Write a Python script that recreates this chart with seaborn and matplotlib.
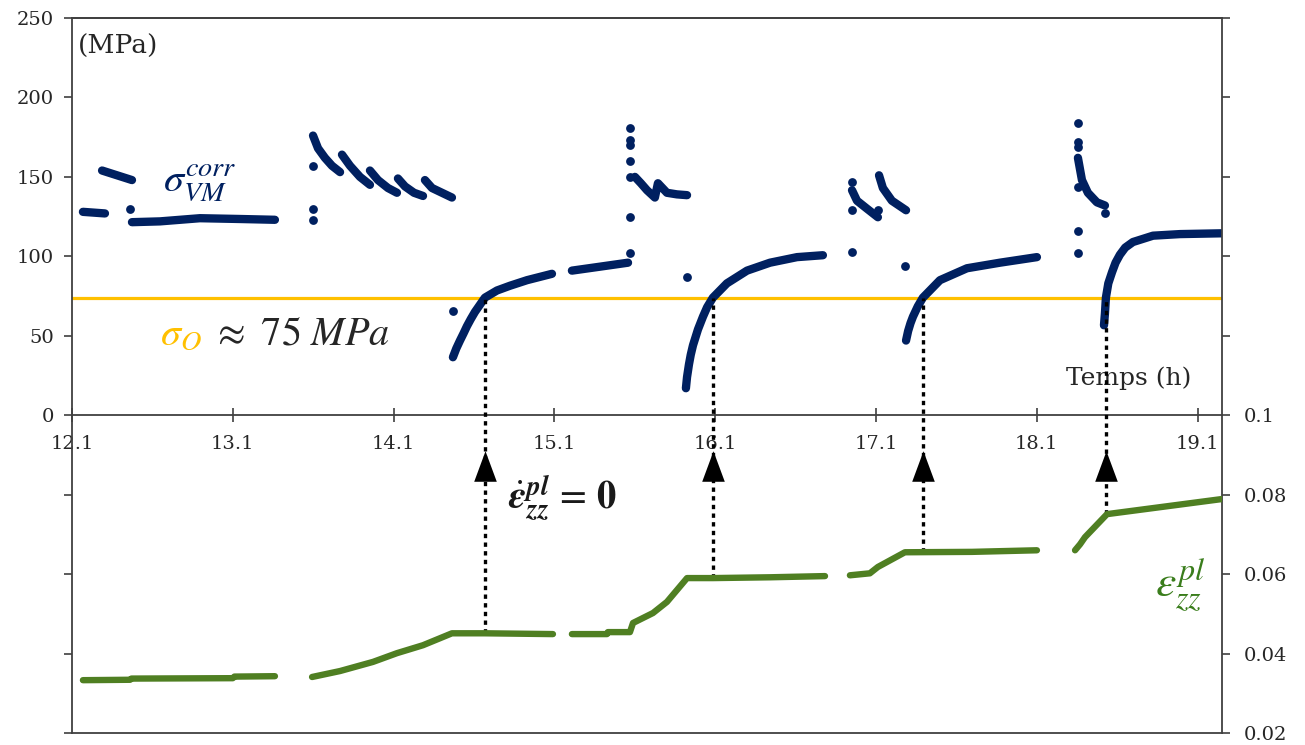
import numpy as np
import pandas as pd
import seaborn as sns
import matplotlib.pyplot as plt
from matplotlib.path import Path

# --- stress (MPa, left axis): continuous pieces, one id per piece ---
stress_seg = ([1] * 3 + [2] * 3 + [3] * 5 +
              [4] * 5 + [5] * 4 + [6] * 4 + [7] * 4 + [8] * 4 +
              [9] * 12 + [10] * 3 + [11] * 8 + [12] * 14 +
              [13] * 4 + [14] * 4 + [15] * 10 + [16] * 5 + [17] * 12)
stress_t = [12.168, 12.237, 12.305,
            12.287, 12.380, 12.473,
            12.473, 12.647, 12.896, 13.145, 13.362,
            13.599, 13.630, 13.673, 13.717, 13.767,
            13.779, 13.829, 13.891, 13.953,
            13.953, 14.003, 14.065, 14.121,
            14.127, 14.171, 14.227, 14.283,
            14.295, 14.339, 14.401, 14.463,
            14.469, 14.490, 14.513, 14.535, 14.556, 14.580, 14.606, 14.668, 14.743, 14.824, 14.930, 15.085,
            15.209, 15.384, 15.558,
            15.601, 15.638, 15.676, 15.725, 15.744, 15.800, 15.862, 15.925,
            15.918, 15.925, 15.937, 15.948, 15.962, 15.993, 16.024, 16.050, 16.086, 16.173, 16.298, 16.441, 16.609, 16.770,
            16.951, 16.982, 17.044, 17.112,
            17.119, 17.143, 17.199, 17.287,
            17.287, 17.300, 17.315, 17.330, 17.360, 17.392, 17.498, 17.666, 17.871, 18.101,
            18.356, 18.381, 18.418, 18.474, 18.524,
            18.518, 18.524, 18.530, 18.545, 18.568, 18.590, 18.617, 18.650, 18.698, 18.823, 18.991, 19.252]
stress_mpa = [128, 127.5, 127,
              154, 151, 148,
              121.5, 122, 124, 123.5, 123,
              176, 168, 162, 157, 153,
              164, 157, 150, 145,
              154, 148, 143, 140,
              149, 144, 140, 138,
              148, 143, 140, 137,
              36.5, 42, 47, 51.5, 56, 60.5, 65, 74, 78.5, 81.5, 85, 89,
              91, 93.5, 96,
              150, 146, 141.6, 137, 146, 140, 139, 138.5,
              17, 24, 32, 38, 44, 54, 62, 68, 74, 83, 91, 96, 99.5, 100.7,
              141.6, 135, 130, 124.6,
              151, 143, 135, 129,
              47, 53, 58, 62, 68.5, 74, 85, 92.5, 96, 99.5,
              162, 148, 140, 134, 132,
              56.6, 64, 74, 83, 90, 96, 101, 105.5, 109, 113, 114, 114.5]

# isolated stress readings
dots_t = [12.461, 13.599, 13.599, 13.599, 14.469,
          15.570, 15.570, 15.570, 15.570, 15.570, 15.570, 15.570, 15.925,
          16.951, 16.951, 16.951, 17.112, 17.280,
          18.356, 18.356, 18.356, 18.356, 18.356, 18.356, 18.524]
dots_mpa = [130, 157, 130, 123, 65.5,
            181, 173, 170, 160, 150, 125, 102, 87,
            147, 129, 102.6, 129, 94,
            184, 172, 169, 143.5, 116, 102, 127]

# --- plastic strain (right axis) ---
strain_seg = [1] * 6 + [2] * 8 + [3] * 11 + [4] * 6 + [5] * 5
strain_t = [12.168, 12.461, 12.470, 13.100, 13.110, 13.362,
            13.593, 13.767, 13.972, 14.121, 14.283, 14.463, 14.668, 15.091,
            15.209, 15.427, 15.433, 15.570, 15.589, 15.713, 15.800, 15.925, 16.086, 16.441, 16.783,
            16.938, 17.062, 17.112, 17.280, 17.697, 18.101,
            18.338, 18.369, 18.400, 18.537, 19.252]
strain_val = [0.0333, 0.0334, 0.0337, 0.0338, 0.0342, 0.0343,
              0.0341, 0.0356, 0.0379, 0.0401, 0.0421, 0.0451, 0.0451, 0.0449,
              0.0449, 0.0449, 0.0454, 0.0454, 0.0477, 0.0502, 0.0530, 0.0590, 0.0590, 0.0592, 0.0595,
              0.0597, 0.0602, 0.0618, 0.0655, 0.0656, 0.0660,
              0.0660, 0.0675, 0.0693, 0.0751, 0.0789]

sigma_o = 74            # MPa, threshold line
zero_rate_t = [14.668, 16.086, 17.392, 18.530]
zero_rate_strain = [0.0451, 0.0590, 0.0655, 0.0751]

x_ticks = [12.1, 13.1, 14.1, 15.1, 16.1, 17.1, 18.1, 19.1]

navy = '#002060'
green = '#4f7f22'
gold = '#FFC000'
axis_col = '#404040'

sns.set_theme(style='white')
plt.rcParams['font.family'] = ['DejaVu Serif']
plt.rcParams['mathtext.fontset'] = 'stix'

df_s = pd.DataFrame({'seg': stress_seg, 't': stress_t, 'mpa': stress_mpa})
df_e = pd.DataFrame({'seg': strain_seg, 't': strain_t, 'eps': strain_val})

fig = plt.figure(figsize=(13.05, 7.45), dpi=100)
ax1 = fig.add_axes([72 / 1305, 12 / 745, 1150 / 1305, 715 / 745])
ax2 = ax1.twinx()

ax1.axhline(sigma_o, color=gold, lw=2.3, zorder=1)
sns.lineplot(data=df_s, x='t', y='mpa', units='seg', estimator=None, sort=False,
             color=navy, lw=6, solid_capstyle='round', solid_joinstyle='round',
             ax=ax1, zorder=3)
sns.scatterplot(x=dots_t, y=dots_mpa, color=navy, s=40, linewidth=0, ax=ax1, zorder=3)

sns.lineplot(data=df_e, x='t', y='eps', units='seg', estimator=None, sort=False,
             color=green, lw=4.6, solid_capstyle='round', ax=ax2, zorder=3)

# dotted guides up to the threshold line, with arrow heads
top_level = 0.1 + sigma_o * 0.18 / 450
for t, e in zip(zero_rate_t, zero_rate_strain):
    ax2.plot([t, t], [e, top_level], color='black', lw=2.4,
             dashes=(1.3, 1.3), zorder=2)
tri = Path([(-0.37, -0.5), (0.37, -0.5), (0, 0.5), (-0.37, -0.5)],
           [Path.MOVETO, Path.LINETO, Path.LINETO, Path.CLOSEPOLY])
ax2.plot(zero_rate_t, [0.0873] * len(zero_rate_t), ls='none', marker=tri,
         ms=22, color='black', mew=0, zorder=4)

# axes
ax1.set_xlim(12.1, 19.252)
ax1.set_ylim(-200, 250)
ax2.set_ylim(0.02, 0.2)
ax1.set_xlabel('')
ax1.set_ylabel('')
ax2.set_ylabel('')

ax1.set_xticks(x_ticks)
ax1.set_xticklabels([f'{v:.1f}' for v in x_ticks])
yl = np.arange(-200, 251, 50)
ax1.set_yticks(yl)
ax1.set_yticklabels([str(v) if v >= 0 else '' for v in yl])
yr = [0.02, 0.04, 0.06, 0.08, 0.1, 0.12, 0.14, 0.16, 0.18, 0.2]
ax2.set_yticks(yr)
ax2.set_yticklabels(['0.02', '0.04', '0.06', '0.08', '0.1', '', '', '', '', ''])

ax1.spines['bottom'].set_position(('data', 0))
ax1.spines['right'].set_visible(False)
ax2.spines['left'].set_visible(False)
for ax in (ax1, ax2):
    for s in ax.spines.values():
        s.set_color(axis_col)
        s.set_linewidth(1.3)

ax1.tick_params(axis='x', direction='inout', length=10, width=1.2, color=axis_col,
                pad=9, labelsize=14, labelcolor='#262626', bottom=True)
ax1.tick_params(axis='y', direction='out', length=6, width=1.2, color=axis_col,
                pad=7, labelsize=14, labelcolor='#262626', left=True)
ax2.tick_params(axis='y', direction='out', length=6, width=1.2, color=axis_col,
                pad=10, labelsize=14, labelcolor='#262626', right=True)

# annotations
ax1.text(12.137, 232, '(MPa)', fontsize=19, color='#262626', ha='left', va='center')
ax1.text(12.896, 146, r'$\sigma_{VM}^{corr}$', fontsize=29, color=navy,
         ha='center', va='center', zorder=5)
ax1.text(12.647, 51, r'$\sigma_O$', fontsize=29, color=gold, ha='left', va='center')
ax1.text(12.97, 51, r'$\approx\ 75\ MPa$', fontsize=29, color='#262626',
         ha='left', va='center')
ax1.text(18.673, 23, 'Temps (h)', fontsize=18, color='#262626', ha='center', va='center')
ax1.text(14.811, -52,
         r'$\dot{\mathbfit{\varepsilon}}_{\mathbfit{zz}}^{\mathbfit{pl}}\,=\,\mathbf{0}$',
         fontsize=28, color='#1a1a1a', ha='left', va='center')
ax1.text(18.99, -107, r'$\varepsilon_{zz}^{pl}$', fontsize=33, color='#3a7d1c',
         ha='center', va='center')

fig.savefig('out.png', dpi=100)
